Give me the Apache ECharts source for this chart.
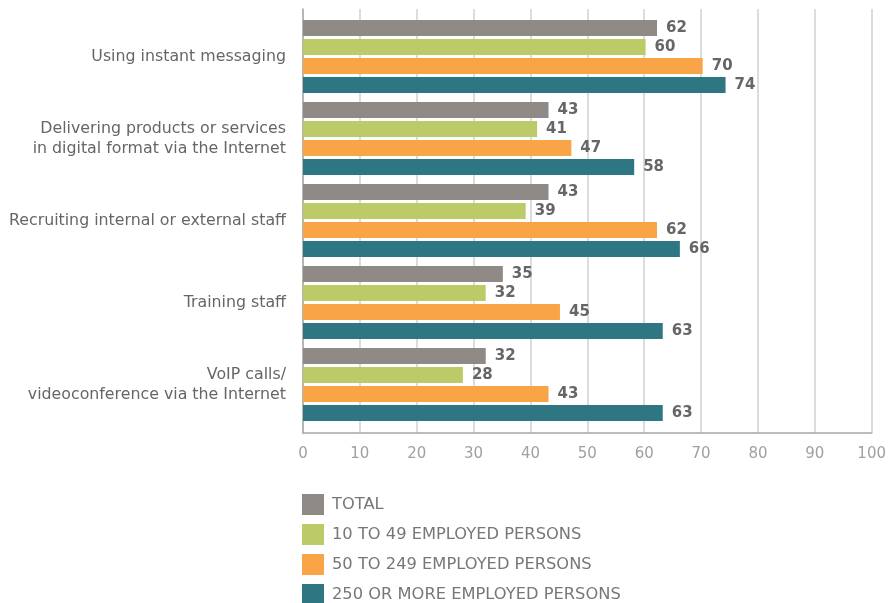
<!DOCTYPE html>
<html>
<head>
  <meta charset="utf-8">
  <title>ICT use by enterprise size</title>
  <style>
    html, body { margin: 0; padding: 0; background: #fff; }
    #main { width: 889px; height: 603px; }
  </style>
</head>
<body>
  <div id="main"></div>
  <script src="https://cdn.jsdelivr.net/npm/echarts@6/dist/echarts.min.js"></script>
  <script>
    // categories, top to bottom
    const categories = [
      'Using instant messaging',
      'Delivering products or services\nin digital format via the Internet',
      'Recruiting internal or external staff',
      'Training staff',
      'VoIP calls/\nvideoconference via the Internet'
    ];
    const seriesNames = [
      'TOTAL',
      '10 TO 49 EMPLOYED PERSONS',
      '50 TO 249 EMPLOYED PERSONS',
      '250 OR MORE EMPLOYED PERSONS'
    ];
    const totalValues = [62, 43, 43, 35, 32];
    const smallValues = [60, 41, 39, 32, 28];
    const mediumValues = [70, 47, 62, 45, 43];
    const largeValues = [74, 58, 66, 63, 63];

    const colors = ['#8f8a85', '#bccb67', '#f9a547', '#2d7682'];
    const fontFamily = '"DejaVu Sans", sans-serif';

    const valuesBySeries = [totalValues, smallValues, mediumValues, largeValues];

    // bars live in grid 1; grid 0 only carries the gridlines and axis labels
    const series = seriesNames.map(function (name, i) {
      return {
        name: name,
        type: 'bar',
        xAxisIndex: 1,
        yAxisIndex: 1,
        data: valuesBySeries[i],
        barWidth: 16,
        barGap: '18.75%',
        itemStyle: { color: colors[i] },
        label: {
          show: true,
          position: 'right',
          distance: 9,
          color: '#666',
          fontWeight: 'bold',
          fontSize: 15,
          fontFamily: fontFamily
        }
      };
    });

    const option = {
      animation: false,
      color: colors,
      grid: [
        { left: 303, right: 15, top: 9, height: 424 },
        { left: 303, right: 15, top: 15.5, height: 410 }
      ],
      xAxis: [
        {
          gridIndex: 0,
          type: 'value',
          min: 0,
          max: 100,
          interval: 10,
          axisLine: { show: true, lineStyle: { color: '#a8a8a8', width: 1.5 } },
          axisTick: { show: false },
          splitLine: { show: true, lineStyle: { color: '#d0d0d0', width: 1.5 } },
          axisLabel: { color: '#a0a0a0', fontSize: 15, margin: 14, fontFamily: fontFamily }
        },
        {
          gridIndex: 1,
          type: 'value',
          min: 0,
          max: 100,
          show: false
        }
      ],
      yAxis: [
        {
          gridIndex: 0,
          type: 'value',
          min: 0,
          max: 1,
          axisLine: { show: true, lineStyle: { color: '#a8a8a8', width: 1.5 } },
          axisTick: { show: false },
          axisLabel: { show: false },
          splitLine: { show: false }
        },
        {
          gridIndex: 1,
          type: 'category',
          inverse: true,
          data: categories,
          axisLine: { show: false },
          axisTick: { show: false },
          axisLabel: {
            color: '#666',
            fontSize: 15.8,
            lineHeight: 20,
            margin: 17,
            align: 'right',
            fontFamily: fontFamily
          }
        }
      ],
      legend: {
        orient: 'vertical',
        left: 302,
        top: 494,
        height: 120,
        padding: 0,
        icon: 'rect',
        itemWidth: 22,
        itemHeight: 21,
        itemGap: 9,
        textStyle: { color: '#777', fontSize: 16.3, padding: [0, 0, 0, 3], fontFamily: fontFamily },
        data: seriesNames
      },
      series: series
    };

    const chart = echarts.init(document.getElementById('main'));
    chart.setOption(option);
  </script>
</body>
</html>
